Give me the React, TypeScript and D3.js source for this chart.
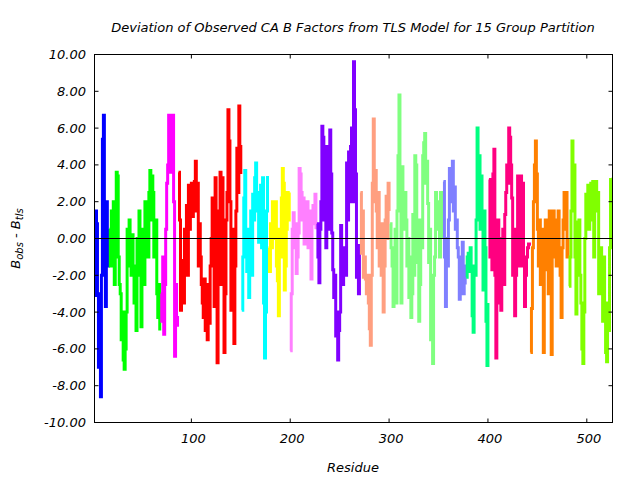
import React from "react";
import * as d3 from "d3";

const titleText = "Deviation of Observed CA B Factors from TLS Model for 15 Group Partition";
const xLabel = "Residue";
const yTicks = [10, 8, 6, 4, 2, 0, -2, -4, -6, -8, -10];
const xTicks = [100, 200, 300, 400, 500];

const groupStarts = [2, 17, 69, 87, 151, 178, 200, 227, 271, 301, 355, 378, 401, 443, 482];
const groupColors = [
  "#0000ff", "#00ff00", "#ff00ff", "#ff0000", "#00ffff", "#ffff00", "#ff80ff", "#8000ff",
  "#ff9f80", "#80ff80", "#8080ff", "#00ff80", "#ff0080", "#ff8000", "#80ff00",
];

const blueValues = [-3.1, 1.5, 0.8, -3.0, -7.0, -4.5, -8.6, -2.0, 5.4, 6.7, 1.0, -3.7, 2.0, -1.5, 0.5];
const greenValues = [
  0.5, -1.5, 1.5, -0.5, 2.0, -2.5, 1.2, 3.6, 3.4, -1.0, -2.5, -3.0, -5.5, -4.0, -6.6, -7.1, -6.0, -4.0,
  0.5, -0.5, 1.0, -1.5, -2.0, 0.2, -1.5, -3.5, -2.0, -5.0, 0.0, -1.0, 1.5, -2.0, -4.8, -1.5, 0.5, -2.5,
  2.0, 0.0, 2.0, -1.0, 2.5, 3.7, 1.0, 3.4, 2.5, -1.0, -0.5, 1.0, -3.0, -4.3, -2.5, -5.0,
];
const magentaValues = [-3.0, -4.5, -1.0, -5.2, -2.5, 0.5, 3.0, 4.0, 6.7, 5.0, 3.6, 6.7, 6.7, 2.0, -6.4, -2.5, -4.3, -4.8];
const redValues = [
  3.6, 1.0, -3.9, -2.8, -1.2, -3.5, 0.5, -2.0, 1.8, -2.0, 2.9, 0.5, 2.0, 3.0, 1.2, 2.6, 3.1, 4.2, 1.5, 3.0,
  -1.5, 0.8, -1.0, -2.5, -3.5, -4.3, -2.2, -5.0, -3.0, -5.5, -2.5, -4.6, -1.5, 0.0, 2.2, -1.0, -3.7, 3.3,
  1.5, -6.75, -2.0, 0.5, 3.6, -2.5, 3.3, -1.0, -6.2, -3.0, 1.0, 2.5, 7.0, 5.3, 2.0, -3.9, 0.5, -2.0, -5.7,
  -1.5, 1.5, 4.9, 2.5, 7.2, 5.0, 3.5,
];
const cyanValues = [
  -3.9, -1.0, 2.2, 3.7, 0.0, -1.8, 0.5, -3.2, -1.0, 1.5, -2.0, 2.4, 1.0, 3.3, 4.1, 1.5, 2.5, -0.2, 0.8,
  2.9, -0.5, 3.3, -3.5, -6.5, -4.0, 1.5, 3.4,
];
const yellowValues = [-0.5, -1.8, 0.8, -0.5, 2.0, 0.0, 1.5, 2.0, -1.5, -2.3, -4.2, 0.5, -1.0, 2.2, 3.8, 3.0, -2.8, -1.5, 0.5, 2.5, 1.0, 2.5];
const pinkValues = [
  -6.1, -3.0, 0.5, 1.4, -0.5, 0.8, -1.9, -1.0, 0.3, 3.8, 3.5, 2.5, 1.0, 2.2, -0.3, 1.5, 0.5, 2.0, -0.5,
  1.0, 1.5, -2.2, 0.8, 1.8, 1.0, 2.4, 0.5,
];
const purpleValues = [
  0.8, -1.0, -2.4, 0.5, 2.0, 6.1, 5.5, 1.0, 4.5, -0.5, 5.0, 4.8, 0.5, 5.9, 3.5, 0.3, -1.7, -3.2, -2.0,
  -5.3, -4.0, -6.6, -5.0, -4.0, 0.7, -1.5, -2.5, -0.5, -1.4, -2.0, 4.1, 1.0, 4.7, 2.0, 5.0, 6.0, 2.0,
  9.6, 7.0, 3.5, -2.1, -0.5, -3.0, -0.3,
];
const salmonValues = [
  2.5, -0.8, 1.5, -2.1, -1.0, -2.2, -3.0, -2.0, -3.5, -4.9, -5.8, -2.0, 3.0, 6.5, 2.0, 3.7, 1.5, -0.5,
  2.5, -1.5, 0.5, -2.0, 0.8, -4.0, -1.5, 1.0, 2.3, 0.0, 3.0, 1.5,
];
const lightGreenValues = [
  0.8, -0.5, -1.5, -3.7, -1.0, 0.5, -3.5, 1.5, 4.5, 7.8, 3.0, -3.5, 3.9, 1.5, 0.5, 2.5, 1.0, -1.5, 0.0,
  -3.2, -1.0, -4.3, -3.0, 1.3, -2.0, 4.5, 4.0, 1.0, -1.3, -4.5, -2.5, 1.0, -0.5, 4.5, 5.2, 5.7, 3.0, 4.2,
  1.9, -1.3, 0.5, -5.5, -3.0, -6.8, -2.0, -1.0, 2.5, 0.5, 1.5, 2.0, -1.0, 2.5, 1.5, 0.0,
];
const periwinkleValues = [3.1, -1.0, -3.7, 0.0, -1.5, 1.0, 3.8, 2.0, 3.0, 4.2, 1.5, 2.8, 0.5, 1.0, -0.5, -1.0, -3.3, -1.0, -2.5, -0.2, -3.0, -1.5, -2.5];
const springGreenValues = [-2.1, -1.0, -0.8, -1.8, -0.5, -1.5, -4.2, -5.1, -1.5, -2.0, 1.0, 6.0, 3.5, 4.5, 0.5, 3.4, 1.0, -2.8, 1.5, -0.5, -4.5, -6.9, -3.5];
const deepPinkValues = [
  3.2, -1.0, 1.5, -1.7, 3.5, 4.85, -2.0, -6.5, -3.5, 1.0, -1.5, 0.0, -3.9, -1.0, 0.5, -2.5, 1.3, 2.5, 4.0,
  3.0, 6.0, 5.5, 4.0, 2.2, -2.0, 0.5, -4.2, -2.0, 0.0, 3.4, 1.5, -1.5, 3.4, 1.2, 3.0, -1.5, -3.7, -2.0,
  -1.0, -0.5, -0.3, -0.4,
];
const orangeValues = [
  -6.2, -3.8, -0.5, 2.0, 4.0, 5.3, 3.5, 0.5, -1.5, 1.0, -2.5, 0.5, -2.0, -6.2, -1.0, 1.0, -1.7, 0.5, -3.0,
  1.5, -2.0, -6.3, 0.0, 1.5, -1.0, 1.0, -1.5, 0.8, 1.5, -0.5, -2.0, -4.3, -0.5, 1.0, 2.5, 0.5, 2.5, -1.0, 0.0,
];
const chartreuseValues = [
  -2.6, -1.0, 1.5, 5.3, 2.0, 4.0, -1.0, -4.1, 0.9, -1.5, 1.0, -2.0, -3.5, -6.0, -6.8, -4.0, 0.0, 2.4, 1.5,
  2.9, 0.5, 2.0, 3.0, 1.0, 3.1, -1.0, 2.5, 3.1, 1.5, 2.5, -3.0, -2.5, -0.5, -1.5, -4.5, -1.0, -3.5, -6.2,
  -6.7, -3.5, -5.0, -0.5, 3.2, 1.0, 3.3,
];

const groupValues = [
  blueValues, greenValues, magentaValues, redValues, cyanValues, yellowValues, pinkValues, purpleValues,
  salmonValues, lightGreenValues, periwinkleValues, springGreenValues, deepPinkValues, orangeValues, chartreuseValues,
];

const W = 640;
const H = 480;
const left = 94.5;
const right = 612.5;
const top = 54.5;
const bottom = 422.5;
const font = "'DejaVu Sans', sans-serif";

export default function App() {
  const x = d3.scaleLinear().domain([2, 526]).range([left, right]);
  const y = d3.scaleLinear().domain([-10, 10]).range([bottom, top]);
  const line = d3
    .line<[number, number]>()
    .x((d) => x(d[0]))
    .y((d) => y(d[1]))
    .curve(d3.curveStepAfter);

  return (
    <svg
      width={W}
      height={H}
      style={{ position: "absolute", left: 0, top: 0, background: "#fff" }}
      fontFamily={font}
    >
      <rect x={0} y={0} width={W} height={H} fill="#fff" />
      <g clipPath="url(#plotclip)">
        <defs>
          <clipPath id="plotclip">
            <rect x={left} y={top} width={right - left} height={bottom - top} />
          </clipPath>
        </defs>
        {groupValues.map((vals, gi) => {
          const pts: [number, number][] = vals.map((v, i) => [groupStarts[gi] + i, v]);
          return (
            <path
              key={gi}
              d={line(pts) || ""}
              fill="none"
              stroke={groupColors[gi]}
              strokeWidth={3}
              strokeLinejoin="miter"
              strokeLinecap="butt"
            />
          );
        })}
      </g>
      <line x1={left} x2={right} y1={y(0)} y2={y(0)} stroke="#000" strokeWidth={1} />
      {yTicks.map((t) => (
        <g key={"y" + t}>
          <line x1={left} x2={left + 4} y1={y(t)} y2={y(t)} stroke="#000" />
          <line x1={right - 4} x2={right} y1={y(t)} y2={y(t)} stroke="#000" />
          <text
            x={86}
            y={y(t)}
            dy="0.35em"
            textAnchor="end"
            fontSize={13}
            fontStyle="italic"
            fill="#000"
          >
            {t.toFixed(2)}
          </text>
        </g>
      ))}
      {xTicks.map((t) => (
        <g key={"x" + t}>
          <line x1={x(t)} x2={x(t)} y1={bottom} y2={bottom - 4} stroke="#000" />
          <line x1={x(t)} x2={x(t)} y1={top} y2={top + 4} stroke="#000" />
          <text x={x(t) + 2} y={443} textAnchor="middle" fontSize={13} fontStyle="italic" fill="#000">
            {t}
          </text>
        </g>
      ))}
      <rect x={left} y={top} width={right - left} height={bottom - top} fill="none" stroke="#000" strokeWidth={1} />
      <text x={353} y={32} textAnchor="middle" fontSize={13} fontStyle="italic" fill="#000">
        {titleText}
      </text>
      <text x={353} y={472} textAnchor="middle" fontSize={13} fontStyle="italic" fill="#000">
        {xLabel}
      </text>
      <text
        transform={`translate(20, ${y(0)}) rotate(-90)`}
        textAnchor="middle"
        fontSize={13}
        fontStyle="italic"
        fill="#000"
      >
        B<tspan fontSize={10} dy={3}>obs</tspan>
        <tspan dy={-3}> - B</tspan>
        <tspan fontSize={10} dy={3}>tls</tspan>
      </text>
    </svg>
  );
}
